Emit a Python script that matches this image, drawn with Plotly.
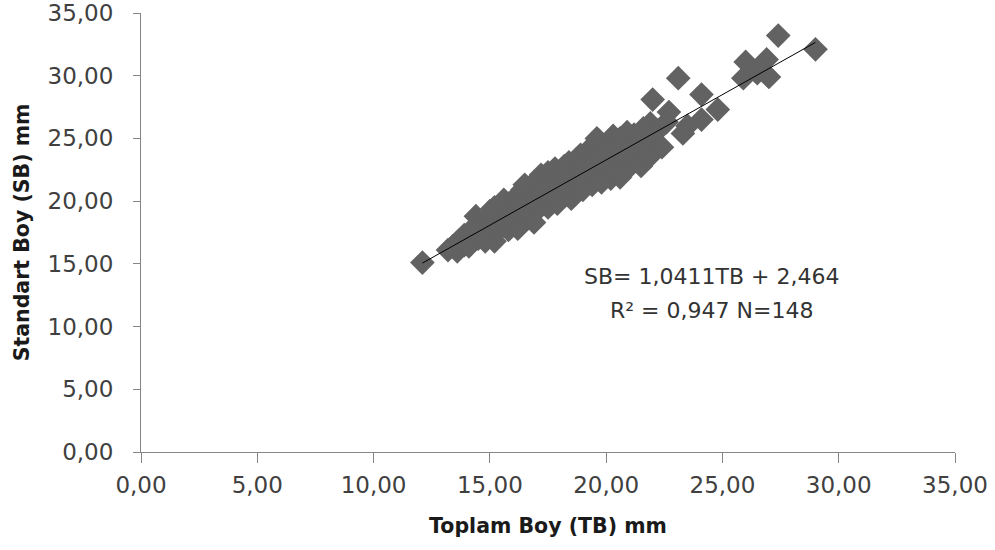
import plotly.graph_objects as go

# Toplam Boy (TB) mm
tb = [12.1,
      13.2, 13.4, 13.6, 13.7, 13.9, 13.9,
      14.1, 14.2, 14.4, 14.5, 14.6, 14.7, 14.8, 14.9, 14.9, 14.3,
      15.0, 15.1, 15.2, 15.3, 15.4, 15.4, 15.5, 15.6, 15.7, 15.8, 15.8, 15.9, 15.2, 15.6,
      16.0, 16.1, 16.1, 16.2, 16.3, 16.4, 16.4, 16.5, 16.6, 16.6, 16.7, 16.8, 16.8, 16.9, 16.9, 16.5,
      17.0, 17.0, 17.1, 17.2, 17.2, 17.3, 17.4, 17.4, 17.5, 17.5, 17.6, 17.7, 17.7, 17.8, 17.8, 17.9, 17.9, 17.3,
      18.0, 18.0, 18.1, 18.2, 18.2, 18.3, 18.4, 18.4, 18.5, 18.5, 18.6, 18.7, 18.7, 18.8, 18.8, 18.9, 18.9, 18.3,
      19.0, 19.0, 19.1, 19.2, 19.2, 19.3, 19.4, 19.4, 19.5, 19.5, 19.6, 19.7, 19.7, 19.8, 19.8, 19.9, 19.9, 19.6,
      20.0, 20.0, 20.1, 20.2, 20.2, 20.3, 20.4, 20.4, 20.5, 20.6, 20.6, 20.7, 20.8, 20.8, 20.9, 20.9,
      21.0, 21.1, 21.2, 21.3, 21.4, 21.5, 21.6, 21.6, 21.7, 21.8, 21.9, 21.9,
      22.0, 22.1, 22.2, 22.4, 22.7, 22.6,
      23.1, 23.3, 23.5, 24.1, 24.1, 24.8,
      25.9, 26.0, 26.5, 26.9, 27.0, 27.4, 29.0]

# Standart Boy (SB) mm
sb = [15.1,
      16.1, 16.4, 16.0, 16.9, 16.5, 17.3,
      16.4, 17.6, 18.8, 17.0, 18.0, 17.4, 16.8, 18.5, 17.8, 17.9,
      19.2, 18.2, 16.8, 17.6, 19.6, 18.6, 17.9, 19.0, 18.3, 19.8, 17.7, 18.8, 19.5, 20.1,
      19.3, 18.4, 20.3, 17.8, 19.8, 20.9, 18.9, 19.5, 20.4, 18.6, 21.1, 19.9, 19.0, 20.7, 18.3, 21.3,
      20.1, 21.6, 19.4, 20.8, 22.1, 19.9, 21.3, 20.4, 19.5, 22.3, 21.0, 20.0, 21.8, 20.6, 22.6, 19.8, 21.4, 21.0,
      20.9, 22.0, 20.3, 21.5, 22.8, 20.6, 21.9, 23.1, 21.1, 20.2, 22.4, 20.9, 23.3, 21.6, 22.0, 23.7, 21.2, 22.5,
      22.3, 20.9, 23.0, 21.6, 24.0, 22.1, 23.4, 21.3, 22.7, 24.4, 21.9, 23.1, 24.8, 22.4, 21.5, 23.8, 22.9, 25.0,
      23.5, 22.2, 24.5, 21.8, 23.0, 25.2, 22.6, 24.0, 23.3, 25.0, 21.9, 23.8, 24.6, 22.7, 25.5, 23.4,
      24.1, 22.9, 25.3, 23.6, 24.7, 22.8, 25.8, 23.9, 24.4, 25.1, 23.6, 26.2,
      28.1, 24.7, 25.6, 24.3, 27.1, 26.3,
      29.8, 25.4, 26.0, 28.5, 26.5, 27.3,
      29.8, 31.1, 30.2, 31.3, 29.9, 33.2, 32.1]

# Regression reported on the chart
slope = 1.0411
intercept = 2.464
eq_line1 = "SB= 1,0411TB + 2,464"
eq_line2 = "R² = 0,947 N=148"

tick_vals = [0, 5, 10, 15, 20, 25, 30, 35]
tick_text = ["0,00", "5,00", "10,00", "15,00", "20,00", "25,00", "30,00", "35,00"]

x_title = "Toplam Boy (TB) mm"
y_title = "Standart Boy (SB) mm"

FONT = "DejaVu Sans"

fig = go.Figure()
fig.add_trace(go.Scatter(
    x=tb, y=sb, mode="markers",
    marker=dict(symbol="diamond", size=19, color="#626262", line=dict(width=0)),
    showlegend=False, hoverinfo="x+y"))

x0, x1 = min(tb), max(tb)
fig.add_trace(go.Scatter(
    x=[x0, x1], y=[slope * x0 + intercept, slope * x1 + intercept],
    mode="lines", line=dict(color="#000000", width=1), showlegend=False))

fig.add_annotation(x=24.55, y=13.96, xref="x", yref="y", text=eq_line1,
                   showarrow=False, font=dict(family=FONT, size=22, color="#333333"))
fig.add_annotation(x=24.55, y=11.32, xref="x", yref="y", text=eq_line2,
                   showarrow=False, font=dict(family=FONT, size=22, color="#333333"))

axis_common = dict(
    range=[0, 35], tickvals=tick_vals, ticktext=tick_text,
    showgrid=False, zeroline=False, showline=True, automargin=False,
    linecolor="#868686", linewidth=1, ticks="outside", tickcolor="#868686",
    ticklabeloverflow="allow",
    tickfont=dict(family=FONT, size=23, color="#404040"),
)

fig.update_xaxes(**axis_common, ticklen=10, ticklabelstandoff=2,
                 title=dict(text=x_title, standoff=22,
                            font=dict(family=FONT, size=20.5, color="#1a1a1a", weight="bold")))
fig.update_yaxes(**axis_common, ticklen=7, ticklabelstandoff=15,
                 title=dict(text=y_title, standoff=12,
                            font=dict(family=FONT, size=20.5, color="#1a1a1a", weight="bold")))

fig.update_layout(
    width=995, height=550,
    margin=dict(l=141, r=40, t=13, b=98),
    plot_bgcolor="white", paper_bgcolor="white",
    font=dict(family=FONT),
)

# remove the default page margin so the figure starts at the window's top-left corner
fig.write_html("out.html", config={"displayModeBar": False},
               post_script="document.body.style.margin='0';")
